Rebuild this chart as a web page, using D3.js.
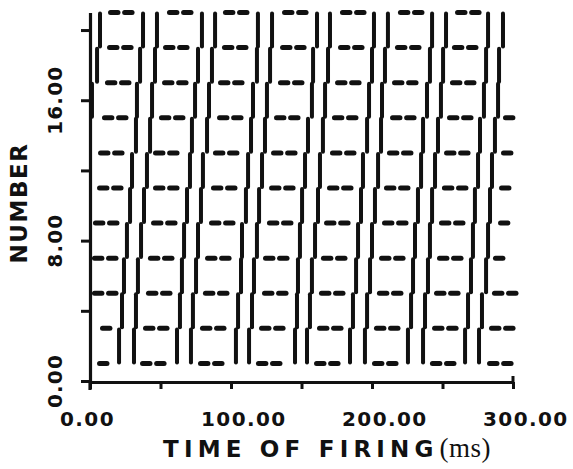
<!DOCTYPE html>
<html><head><meta charset="utf-8">
<script src="https://cdn.jsdelivr.net/npm/d3@7/dist/d3.min.js"></script>
<style>
body{margin:0;background:#fff}
text{font-family:"DejaVu Sans",sans-serif;font-weight:bold;fill:#111}
</style>
</head><body>
<svg id="chart" width="573" height="469"></svg>
<script>
// ---- data ----
const xTicks = [0, 50, 100, 150, 200, 250, 300];
const xLabelValues = [0, 100, 200, 300];
const xLabels = ["0.00", "100.00", "200.00", "300.00"];
const yTicks = [0, 4, 8, 12, 16, 20];
const yLabelValues = [0, 8, 16];
const yLabels = ["0.00", "8.00", "16.00"];

// odd-numbered cells: spike times (ms), drawn as short horizontal dashes
const dashRows = [21, 19, 17, 15, 13, 11, 9, 7, 5, 3, 1];
const dashSpikes = [
  [12.8,22.8, 54.6,64.6, 94.3,104.3, 136.2,146.2, 177.3,187.3, 218.4,228.4, 258.9,268.9],
  [12.1,22.1, 51.8,61.8, 93.6,103.6, 134.8,144.8, 175.9,185.9, 216.3,226.3, 256.7,266.7],
  [10.6,20.6, 51.1,61.1, 90.8,100.8, 133.3,143.3, 173.8,183.8, 214.2,224.2, 255.3,265.3],
  [8.5,18.5, 48.9,58.9, 90.1,100.1, 130.5,140.5, 171.6,181.6, 212.8,222.8, 253.2,263.2, 292.9],
  [5.7,15.7, 44.7,54.7, 87.2,97.2, 128.4,138.4, 170.2,180.2, 210.6,220.6, 251.1,261.1, 291.5],
  [5.0,15.0, 44.7,54.7, 85.8,95.8, 127.0,137.0, 168.1,178.1, 208.5,218.5, 249.6,259.6, 290.1],
  [2.1,12.1, 43.3,53.3, 84.4,94.4, 125.5,135.5, 166.0,176.0, 207.1,217.1, 247.5,257.5, 289.4],
  [1.4,11.4, 41.1,51.1, 81.6,91.6, 122.7,132.7, 163.8,173.8, 205.0,215.0, 246.1,256.1, 285.8],
  [1.4,11.4, 39.7,49.7, 80.1,90.1, 122.0,132.0, 162.4,172.4, 203.5,213.5, 244.0,254.0, 285.1,295.1],
  [7.1, 37.6,47.6, 78.0,88.0, 119.9,129.9, 161.0,171.0, 201.4,211.4, 242.6,252.6, 283.0,293.0],
  [5.0, 35.5,45.5, 76.6,86.6, 117.7,127.7, 158.9,168.9, 200.0,210.0, 241.1,251.1, 281.6,291.6]
];

// even-numbered cells: spike times (ms), drawn as vertical bars
const barRows = [20, 18, 16, 14, 12, 10, 8, 6, 4, 2];
const barSpikes = [
  [7.1, 37.6, 47.5, 79.4, 88.7, 119.1, 129.1, 161.0, 170.2, 201.4, 211.3, 242.6, 252.5, 282.3, 292.9],
  [5.0, 35.5, 46.1, 76.6, 86.5, 118.4, 127.7, 158.2, 168.8, 200.0, 209.2, 241.1, 250.4, 280.9, 290.1],
  [1.4, 33.3, 44.0, 74.5, 84.4, 115.6, 125.5, 157.4, 166.7, 197.9, 207.1, 239.0, 248.9, 279.4, 289.4],
  [32.6, 42.6, 72.3, 83.0, 114.2, 124.1, 154.6, 165.2, 196.5, 206.4, 236.2, 246.8, 276.6, 287.2],
  [29.8, 40.4, 70.9, 80.1, 112.1, 122.0, 152.5, 163.1, 193.6, 204.3, 234.8, 244.7, 275.2, 285.1],
  [28.4, 38.3, 68.8, 78.7, 110.6, 119.9, 150.4, 161.7, 192.2, 202.1, 232.6, 242.6, 273.0, 283.7],
  [26.2, 36.2, 66.7, 76.6, 107.8, 118.4, 148.9, 159.6, 190.1, 200.0, 230.5, 241.1, 271.6, 282.3],
  [24.1, 34.0, 65.2, 75.2, 107.1, 116.3, 147.5, 157.4, 188.7, 198.6, 229.1, 239.7, 270.2, 280.9],
  [22.7, 32.6, 63.8, 73.0, 105.0, 114.9, 146.8, 156.0, 186.5, 196.5, 227.7, 237.6, 268.1, 278.0],
  [20.6, 31.2, 61.7, 71.6, 103.5, 112.8, 145.4, 153.9, 184.4, 195.0, 225.5, 236.2, 266.0, 275.9]
];

const dashLen = 8.8;     // ms, length of one dash piece
const barHalf = 0.94;    // cell units, half height of a bar

// ---- drawing ----
const ink = "#111";
const svg = d3.select("#chart");
const x = d3.scaleLinear().domain([0, 300]).range([90, 513]);
const y = d3.scaleLinear().domain([0, 21]).range([381, 12.5]);

// dashes
const dashData = [];
dashRows.forEach((r, i) => dashSpikes[i].forEach(t => dashData.push({r, t})));
svg.append("g").selectAll("line").data(dashData).join("line")
  .attr("x1", d => x(d.t) + 2.5)
  .attr("x2", d => x(d.t + dashLen) - 2.5)
  .attr("y1", d => y(d.r)).attr("y2", d => y(d.r))
  .attr("stroke", ink).attr("stroke-width", 5).attr("stroke-linecap", "round");

// bars
const barData = [];
barRows.forEach((r, i) => barSpikes[i].forEach(t => barData.push({r, t})));
svg.append("g").selectAll("line").data(barData).join("line")
  .attr("x1", d => x(d.t)).attr("x2", d => x(d.t))
  .attr("y1", d => y(d.r + barHalf)).attr("y2", d => y(d.r - barHalf))
  .attr("stroke", ink).attr("stroke-width", 4).attr("stroke-linecap", "round");

// axes
const yAxis = svg.append("g").attr("transform", `translate(${x(0)},0)`)
  .call(d3.axisLeft(y).tickValues(yTicks).tickSize(9).tickSizeOuter(0).tickFormat(""));
const xAxis = svg.append("g").attr("transform", `translate(0,${y(0) + 1})`)
  .call(d3.axisBottom(x).tickValues(xTicks).tickSize(7).tickSizeOuter(0).tickFormat(""));
[yAxis, xAxis].forEach(a => {
  a.select(".domain").attr("stroke", ink).attr("stroke-width", 3.2);
  a.selectAll(".tick line").attr("stroke", ink).attr("stroke-width", 3);
});
// y axis line runs a little below the x axis; small upturn at right end
svg.append("line").attr("x1", x(0)).attr("x2", x(0)).attr("y1", y(0)).attr("y2", y(0) + 9)
  .attr("stroke", ink).attr("stroke-width", 3.2);
svg.append("line").attr("x1", x(300)).attr("x2", x(300)).attr("y1", y(0) + 1).attr("y2", y(0) - 5)
  .attr("stroke", ink).attr("stroke-width", 3);

// tick labels
svg.append("g").selectAll("text").data(xLabelValues).join("text")
  .attr("x", d => x(d) - 30).attr("y", 426)
  .attr("font-size", 20).attr("letter-spacing", 1.4)
  .text((d, i) => xLabels[i]);
svg.append("g").selectAll("text").data(yLabelValues).join("text")
  .attr("transform", d => `translate(62,${y(d)}) rotate(-90)`)
  .attr("text-anchor", "middle")
  .attr("font-size", 20).attr("letter-spacing", 1.2)
  .text((d, i) => yLabels[i]);

// axis titles
const xt = svg.append("text").attr("x", 163).attr("y", 457)
  .attr("font-size", 23).attr("letter-spacing", 5.2);
xt.append("tspan").text("TIME OF FIRING");
xt.append("tspan").attr("dx", 1)
  .style("font-family", "'Liberation Serif','DejaVu Serif',serif")
  .style("font-weight", "normal").attr("font-size", 27).attr("letter-spacing", 0.5)
  .text("(ms)");
svg.append("text").attr("transform", "translate(27,203) rotate(-90)")
  .attr("text-anchor", "middle").attr("font-size", 23).attr("letter-spacing", 1.5)
  .text("NUMBER");
</script>
</body></html>
